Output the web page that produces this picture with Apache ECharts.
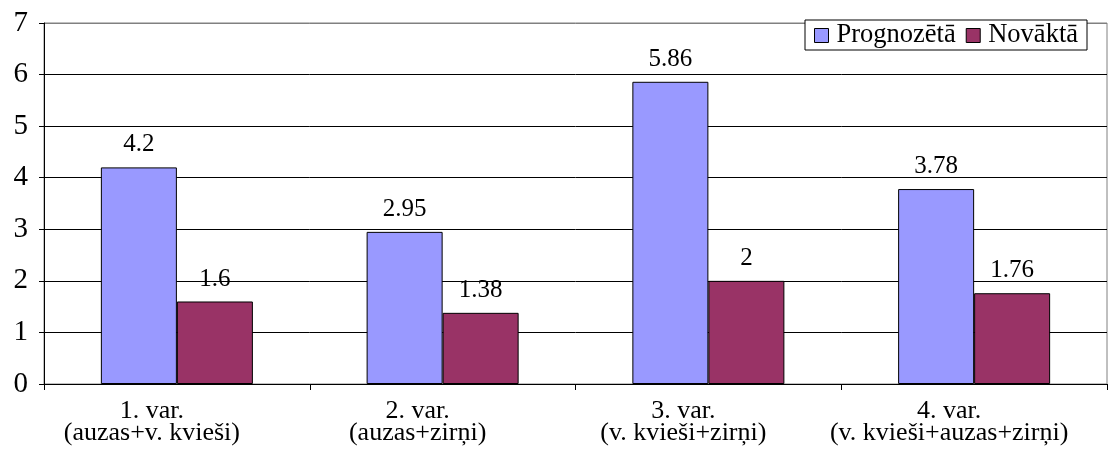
<!DOCTYPE html>
<html>
<head>
<meta charset="utf-8">
<script src="https://cdn.jsdelivr.net/npm/echarts@6/dist/echarts.min.js"></script>
<style>
html,body{margin:0;padding:0;background:#fff;}
#chart{width:1116px;height:468px;}
</style>
</head>
<body>
<div id="chart"></div>
<script>
var categories = [
  "1. var.\n(auzas+v. kvieši)",
  "2. var.\n(auzas+zirņi)",
  "3. var.\n(v. kvieši+zirņi)",
  "4. var.\n(v. kvieši+auzas+zirņi)"
];
var seriesNames = ["Prognozētā", "Novāktā"];
var prognozeta = [4.2, 2.95, 5.86, 3.78];
var novakta = [1.6, 1.38, 2, 1.76];
var yTicks = [0, 1, 2, 3, 4, 5, 6, 7];

var FONT = "'Liberation Serif', 'Times New Roman', serif";
var chart = echarts.init(document.getElementById('chart'), null, {renderer: 'canvas'});
var labelStyle = {show: true, position: 'top', distance: 10, color: '#000', fontFamily: FONT, fontSize: 25};
chart.setOption({
  animation: false,
  backgroundColor: '#fff',
  textStyle: {fontFamily: FONT, color: '#000'},
  legend: {
    right: 29, top: 20,
    orient: 'horizontal',
    itemWidth: 14, itemHeight: 14, itemGap: 10,
    borderColor: '#000', borderWidth: 1, backgroundColor: '#fff',
    padding: [2, 9, 1, 9],
    icon: 'rect',
    textStyle: {fontFamily: FONT, fontSize: 26.5, color: '#000', padding: [0, 0, 0, 3]},
    data: seriesNames.map(function (n) { return {name: n, itemStyle: {borderColor: '#000', borderWidth: 1}}; })
  },
  grid: {left: 44, right: 9, top: 23, bottom: 84, containLabel: false, outerBoundsMode: 'none',
         show: true, borderColor: '#808080', borderWidth: 1},
  xAxis: {
    type: 'category',
    data: categories,
    axisLine: {lineStyle: {color: '#000', width: 1}},
    axisTick: {show: true, length: 6, lineStyle: {color: '#000'}},
    axisLabel: {fontFamily: FONT, fontSize: 26, color: '#000', margin: 16, lineHeight: 22, interval: 0, padding: [0, 50, 0, 0]}
  },
  yAxis: {
    type: 'value',
    min: yTicks[0], max: yTicks[yTicks.length - 1], interval: 1,
    axisLine: {show: true, lineStyle: {color: '#000', width: 1}},
    axisTick: {show: true, length: 5, lineStyle: {color: '#000'}},
    axisLabel: {fontFamily: FONT, fontSize: 29, color: '#000', margin: 16},
    splitLine: {show: true, lineStyle: {color: ['#000', '#000', '#000', '#000', '#000', '#000', '#000', '#808080'], width: 1}}
  },
  series: [
    {
      name: seriesNames[0], type: 'bar', data: prognozeta,
      barGap: '0%', barCategoryGap: '42.8%',
      itemStyle: {color: '#9999FF', borderColor: '#000', borderWidth: 1},
      label: labelStyle
    },
    {
      name: seriesNames[1], type: 'bar', data: novakta,
      itemStyle: {color: '#993366', borderColor: '#000', borderWidth: 1},
      label: labelStyle
    }
  ]
});
</script>
</body>
</html>
